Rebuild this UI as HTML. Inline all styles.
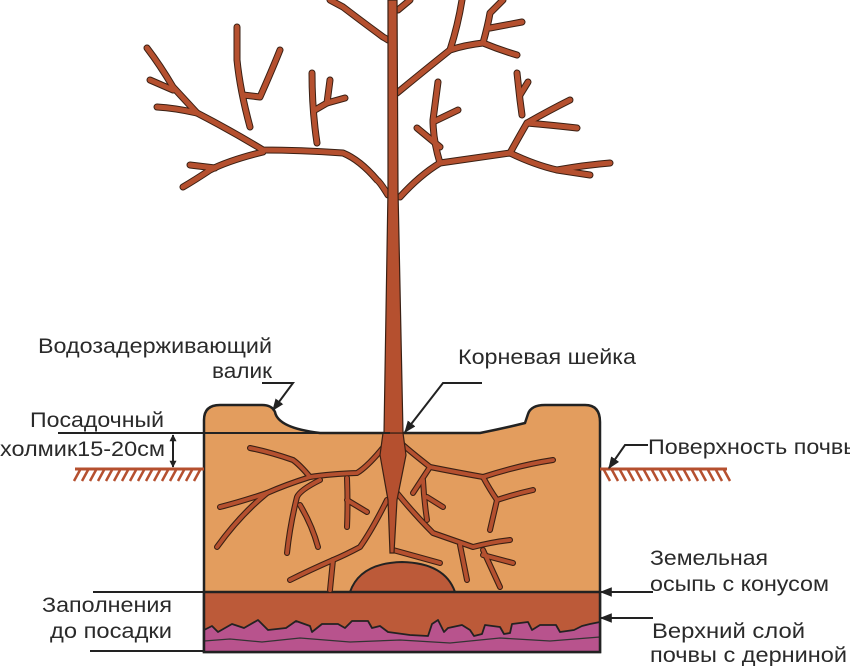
<!DOCTYPE html>
<html><head><meta charset="utf-8"><style>
html,body{margin:0;padding:0;background:#fff;}
svg{display:block;}
text{font-family:"Liberation Sans",sans-serif;font-size:21px;fill:#2a2a2a;}
</style></head><body>
<svg width="850" height="666" viewBox="0 0 850 666" xmlns="http://www.w3.org/2000/svg">
<defs>
<marker id="ah" viewBox="0 0 10 10" refX="9" refY="5" markerWidth="7" markerHeight="7" orient="auto-start-reverse" markerUnits="userSpaceOnUse">
<path d="M0,0 L10,5 L0,10 z" fill="#222"/></marker>
<marker id="ah2" viewBox="0 0 10 10" refX="9" refY="5" markerWidth="12" markerHeight="12" orient="auto-start-reverse" markerUnits="userSpaceOnUse">
<path d="M0,1 L10,5 L0,9 z" fill="#222"/></marker>
<g id="roots" fill="none" stroke-linecap="round" stroke-linejoin="round">
<path d="M389,440 Q370,465 357,473 Q330,474 310,477 Q285,485 267,493 Q240,502 220,507"/>
<path d="M310,477 Q300,465 293,460 Q270,452 250,448"/>
<path d="M267,493 Q240,515 217,547"/>
<path d="M320,480 Q300,490 297,497 Q290,525 287,553"/>
<path d="M300,505 Q312,525 318,547"/>
<path d="M347,478 Q348,505 347,527"/>
<path d="M347,500 L367,512"/>
<path d="M387,500 Q372,530 360,547 Q345,555 333,560 Q310,570 290,580"/>
<path d="M333,560 L330,590"/>
<path d="M398,440 Q402,445 430,467 Q455,472 483,477 Q520,465 553,460"/>
<path d="M483,477 Q490,490 497,500 Q515,494 533,490"/>
<path d="M497,500 L490,530"/>
<path d="M430,467 L413,493"/>
<path d="M423,480 Q424,500 427,520"/>
<path d="M427,497 L443,507"/>
<path d="M397,493 Q415,515 433,533 Q453,540 473,547 Q492,542 510,540"/>
<path d="M483,550 L500,587"/>
<path d="M483,555 L513,563"/>
<path d="M460,545 L467,580"/>
<path d="M393,550 L440,563"/>
</g>
<g id="branches" fill="none" stroke-linecap="round" stroke-linejoin="round">
<path d="M388,195 Q380,182 377,180 Q360,160 343,153 Q300,150 263,150 Q230,130 197,113 Q175,108 157,107"/>
<path d="M263,152 Q230,160 210,170 Q195,180 183,187"/>
<path d="M215,168 L190,165"/>
<path d="M250,127 Q240,90 237,60 L237,27"/>
<path d="M243,95 L260,97 Q272,70 280,50"/>
<path d="M197,113 Q185,100 173,87 Q160,65 147,48"/>
<path d="M173,90 L150,80"/>
<path d="M317,143 Q312,110 312,73"/>
<path d="M315,110 L327,103 L330,80"/>
<path d="M327,103 L345,98"/>
<path d="M388,40 Q385,38 383,37 Q360,20 343,7 L330,0"/>
<path d="M397,93 Q425,70 450,50 Q465,45 483,43 Q500,50 517,55"/>
<path d="M483,43 Q488,25 490,13 L503,0"/>
<path d="M490,28 L522,22"/>
<path d="M450,50 Q458,25 462,0"/>
<path d="M398,10 L410,0"/>
<path d="M400,197 Q420,175 440,163 Q475,158 510,153 Q535,165 557,170 Q585,165 610,163"/>
<path d="M557,170 L590,175"/>
<path d="M510,153 Q520,135 527,123 Q550,125 577,128"/>
<path d="M527,123 Q550,110 570,100"/>
<path d="M522,115 L520,100 L517,73"/>
<path d="M520,95 L528,82"/>
<path d="M440,163 Q433,140 433,120 L438,82"/>
<path d="M433,122 L458,110"/>
<path d="M440,147 L417,128"/>
</g>
</defs>

<path d="M204,652 L204,420 Q204,405 220,405 L262,405 Q272,405 275,412 Q278,428 320,433 L480,433 Q505,428 525,423 L528,414 Q531,405 545,405 L585,405 Q600,405 600,422 L600,652 Z" fill="#E39D5E" stroke="#222" stroke-width="2.5"/>
<rect x="204" y="592" width="396" height="60" fill="#BC5A39"/>
<path d="M204,630 L212,626 L218,632 L232,624 L244,628 L258,620 L268,630 L286,628 L296,621 L310,626 L312,632 L322,624 L338,624 L345,628 L352,621 L368,621 L372,628 L380,626 L388,632 L410,635 L428,636 L432,624 L438,620 L444,632 L448,628 L462,625 L470,630 L474,636 L482,634 L485,625 L500,627 L504,634 L510,633 L512,624 L528,622 L532,630 L540,625 L556,625 L560,632 L574,630 L582,626 L590,624 L600,622 L600,652 L204,652 Z" fill="#B8538D" stroke="#222" stroke-width="1.8" stroke-linejoin="round"/>
<path d="M204,641 L230,639 L262,642 L300,638 L350,642 L400,640 L450,643 L500,638 L550,641 L600,637" fill="none" stroke="#333" stroke-width="1.3"/>
<path d="M204,592 L350,592 Q360,563 402,562 Q445,563 455,592 L600,592" fill="#BC5A39" stroke="#222" stroke-width="2"/>
<rect x="204" y="592" width="396" height="60" fill="none" stroke="#222" stroke-width="2.5"/>

<use href="#roots" stroke="#3a2014" stroke-width="6"/>
<use href="#roots" stroke="#B5502F" stroke-width="3.8"/>
<path d="M383,433 L380,455 L388,500 L390,553 L394,553 L397,500 L406,455 L403,433 Z" fill="#B5502F" stroke="#3a2014" stroke-width="1.2"/>

<use href="#branches" stroke="#3a2014" stroke-width="7"/>
<use href="#branches" stroke="#B5502F" stroke-width="5"/>
<path d="M388,0 L397,0 L398,190 L403,433 L384,433 L388,190 Z" fill="#B5502F" stroke="#3a2014" stroke-width="1.2"/>

<line x1="58" y1="433" x2="390" y2="433" stroke="#222" stroke-width="2"/>
<line x1="93" y1="592" x2="204" y2="592" stroke="#222" stroke-width="2"/>
<line x1="90" y1="651" x2="204" y2="651" stroke="#222" stroke-width="2"/>
<line x1="173" y1="435" x2="173" y2="467" stroke="#222" stroke-width="2" marker-start="url(#ah)" marker-end="url(#ah)"/>

<line x1="75" y1="469" x2="204" y2="469" stroke="#B5502F" stroke-width="3"/>
<g stroke="#B5502F" stroke-width="2.5">
<line x1="80" y1="470" x2="74" y2="481"/><line x1="88" y1="470" x2="82" y2="481"/><line x1="96" y1="470" x2="90" y2="481"/><line x1="104" y1="470" x2="98" y2="481"/><line x1="112" y1="470" x2="106" y2="481"/><line x1="120" y1="470" x2="114" y2="481"/><line x1="128" y1="470" x2="122" y2="481"/><line x1="136" y1="470" x2="130" y2="481"/><line x1="144" y1="470" x2="138" y2="481"/><line x1="152" y1="470" x2="146" y2="481"/><line x1="160" y1="470" x2="154" y2="481"/><line x1="168" y1="470" x2="162" y2="481"/><line x1="176" y1="470" x2="170" y2="481"/><line x1="184" y1="470" x2="178" y2="481"/><line x1="192" y1="470" x2="186" y2="481"/><line x1="200" y1="470" x2="194" y2="481"/>
</g>
<line x1="600" y1="469" x2="727" y2="469" stroke="#B5502F" stroke-width="3"/>
<g stroke="#B5502F" stroke-width="2.5">
<line x1="604" y1="470" x2="610" y2="481"/><line x1="612" y1="470" x2="618" y2="481"/><line x1="620" y1="470" x2="626" y2="481"/><line x1="628" y1="470" x2="634" y2="481"/><line x1="636" y1="470" x2="642" y2="481"/><line x1="644" y1="470" x2="650" y2="481"/><line x1="652" y1="470" x2="658" y2="481"/><line x1="660" y1="470" x2="666" y2="481"/><line x1="668" y1="470" x2="674" y2="481"/><line x1="676" y1="470" x2="682" y2="481"/><line x1="684" y1="470" x2="690" y2="481"/><line x1="692" y1="470" x2="698" y2="481"/><line x1="700" y1="470" x2="706" y2="481"/><line x1="708" y1="470" x2="714" y2="481"/><line x1="716" y1="470" x2="722" y2="481"/><line x1="724" y1="470" x2="730" y2="481"/>
</g>

<polyline points="262,383 293,383 273,410" fill="none" stroke="#222" stroke-width="2" marker-end="url(#ah2)"/>
<polyline points="482,383 443,383 405,432" fill="none" stroke="#222" stroke-width="2" marker-end="url(#ah2)"/>
<polyline points="648,445 625,445 609,468" fill="none" stroke="#222" stroke-width="2" marker-end="url(#ah2)"/>
<line x1="653" y1="592" x2="601" y2="592" stroke="#222" stroke-width="2" marker-end="url(#ah2)"/>
<line x1="653" y1="618" x2="601" y2="618" stroke="#222" stroke-width="2" marker-end="url(#ah2)"/>

<g lengthAdjust="spacingAndGlyphs">
<text x="38" y="353" textLength="234" lengthAdjust="spacingAndGlyphs">Водозадерживающий</text>
<text x="212" y="378" textLength="60" lengthAdjust="spacingAndGlyphs">валик</text>
<text x="458" y="364" textLength="178" lengthAdjust="spacingAndGlyphs">Корневая шейка</text>
<text x="30" y="427" textLength="134" lengthAdjust="spacingAndGlyphs">Посадочный</text>
<text x="0" y="456" textLength="165" lengthAdjust="spacingAndGlyphs">холмик15-20см</text>
<text x="648" y="454" textLength="212" lengthAdjust="spacingAndGlyphs">Поверхность почвы</text>
<text x="650" y="565" textLength="118" lengthAdjust="spacingAndGlyphs">Земельная</text>
<text x="650" y="591" textLength="179" lengthAdjust="spacingAndGlyphs">осыпь с конусом</text>
<text x="42" y="612" textLength="130" lengthAdjust="spacingAndGlyphs">Заполнения</text>
<text x="50" y="638" textLength="122" lengthAdjust="spacingAndGlyphs">до посадки</text>
<text x="652" y="638" textLength="153" lengthAdjust="spacingAndGlyphs">Верхний слой</text>
<text x="650" y="662" textLength="197" lengthAdjust="spacingAndGlyphs">почвы с дерниной</text>
</g>
</svg>
</body></html>
